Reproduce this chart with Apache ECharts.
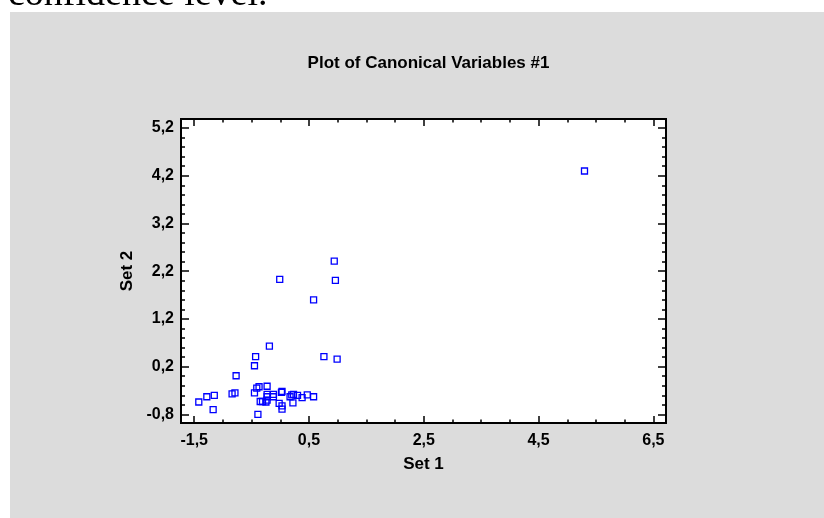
<!DOCTYPE html>
<html>
<head>
<meta charset="utf-8">
<script src="https://cdn.jsdelivr.net/npm/echarts@6/dist/echarts.min.js"></script>
<style>
  html, body { margin: 0; padding: 0; background: #ffffff; }
  #chart { width: 824px; height: 518px; }
</style>
</head>
<body>
<div id="chart"></div>
<script>
// Canonical variable scores: first canonical variable of each set
const set1 = [
  0.94, -0.01, 0.96, 0.58, -0.19, -0.43, 0.76, 0.99, -0.45, -0.77,
  -0.37, -0.41, -0.23, -1.42, -1.28, -1.15, -1.17, -0.84, -0.79, -0.45,
  -0.39, -0.35, -0.31, -0.25, -0.23, -0.23, -0.12, -0.12, -0.23, 0.03,
  0.02, -0.02, 0.03, 0.03, 0.20, 0.23, 0.17, 0.22, 0.30, 0.38,
  0.47, 0.58, 5.30
];
const set2 = [
  2.41, 2.03, 2.01, 1.60, 0.63, 0.41, 0.41, 0.36, 0.22, 0.01,
  -0.22, -0.25, -0.21, -0.54, -0.43, -0.40, -0.70, -0.37, -0.35, -0.35,
  -0.80, -0.53, -0.53, -0.54, -0.50, -0.38, -0.38, -0.43, -0.43, -0.32,
  -0.34, -0.57, -0.62, -0.69, -0.39, -0.38, -0.43, -0.56, -0.40, -0.45,
  -0.39, -0.43, 4.30
];

const xTicks = [-1.5, 0.5, 2.5, 4.5, 6.5];
const yTicks = [-0.8, 0.2, 1.2, 2.2, 3.2, 4.2, 5.2];
const xRange = [-1.73, 6.72];
const yRange = [-0.98, 5.39];

const chartTitle = 'Plot of Canonical Variables #1';
const xName = 'Set 1';
const yName = 'Set 2';
const headerText = 'confidence level.';

// minor tick positions between consecutive major ticks
function minors(ticks, parts) {
  const out = [];
  for (let i = 0; i < ticks.length - 1; i++) {
    const step = (ticks[i + 1] - ticks[i]) / parts;
    for (let k = 1; k < parts; k++) out.push(+(ticks[i] + k * step).toFixed(4));
  }
  return out;
}
const xMinor = minors(xTicks, 4);
const yMinor = minors(yTicks, 5);

const fmt = v => Number(v).toFixed(1).replace('.', ',');
const FONT = '"Liberation Sans", Arial, sans-serif';
const lineStyle = { color: '#000', width: 2 };

function xAxisDef(pos, ticks, len, opts) {
  return Object.assign({
    type: 'value', position: pos, min: xRange[0], max: xRange[1],
    splitLine: { show: false },
    axisLine: { show: true, onZero: false, lineStyle: lineStyle },
    axisTick: { show: true, inside: true, length: len, customValues: ticks,
                lineStyle: { color: '#000', width: 1.5 } },
    axisLabel: { show: false }
  }, opts || {});
}
function yAxisDef(pos, ticks, len, opts) {
  return Object.assign({
    type: 'value', position: pos, min: yRange[0], max: yRange[1],
    splitLine: { show: false },
    axisLine: { show: true, onZero: false, lineStyle: lineStyle },
    axisTick: { show: true, inside: true, length: len, customValues: ticks,
                lineStyle: { color: '#000', width: 1.5 } },
    axisLabel: { show: false }
  }, opts || {});
}

const chart = echarts.init(document.getElementById('chart'), null, { renderer: 'canvas' });

chart.setOption({
  backgroundColor: '#ffffff',
  animation: false,
  graphic: [
    { type: 'rect', z: -100, shape: { x: 10, y: 12, width: 814, height: 506 },
      style: { fill: '#dcdcdc' } },
    { type: 'rect', z: -90, shape: { x: 181, y: 119, width: 485, height: 304 },
      style: { fill: '#ffffff' } },
    { type: 'text', z: -80, left: 8, top: -23.5,
      style: { text: headerText, fill: '#000', font: '38px "Liberation Serif", "Times New Roman", serif' } }
  ],
  title: {
    text: chartTitle, left: 423.5, top: 50, textAlign: 'center',
    textStyle: { fontFamily: FONT, fontWeight: 'bold', fontSize: 17, color: '#000' }
  },
  grid: { left: 181, top: 119, width: 485, height: 304, containLabel: false },
  xAxis: [
    xAxisDef('bottom', xTicks, 7, {
      name: xName, nameLocation: 'middle', nameGap: 33,
      nameTextStyle: { fontFamily: FONT, fontWeight: 'bold', fontSize: 17, color: '#000' },
      axisLabel: { show: true, customValues: xTicks, formatter: fmt, margin: 10,
                   fontFamily: FONT, fontWeight: 'bold', fontSize: 16, color: '#000' }
    }),
    xAxisDef('bottom', xMinor, 3.5),
    xAxisDef('top', xTicks, 7),
    xAxisDef('top', xMinor, 3.5)
  ],
  yAxis: [
    yAxisDef('left', yTicks, 8, {
      name: yName, nameLocation: 'middle', nameGap: 44, nameRotate: 90,
      nameTextStyle: { fontFamily: FONT, fontWeight: 'bold', fontSize: 17, color: '#000' },
      axisLabel: { show: true, customValues: yTicks, formatter: fmt, margin: 7,
                   fontFamily: FONT, fontWeight: 'bold', fontSize: 16, color: '#000' }
    }),
    yAxisDef('left', yMinor, 4),
    yAxisDef('right', yTicks, 8),
    yAxisDef('right', yMinor, 4)
  ],
  series: [{
    type: 'scatter',
    xAxisIndex: 0, yAxisIndex: 0,
    symbol: 'rect', symbolSize: 6,
    itemStyle: { color: 'rgba(0,0,0,0)', borderColor: '#0000ff', borderWidth: 1.3, opacity: 1 },
    data: set1.map((x, i) => [x, set2[i]]),
    z: 5
  }]
});
</script>
</body>
</html>
